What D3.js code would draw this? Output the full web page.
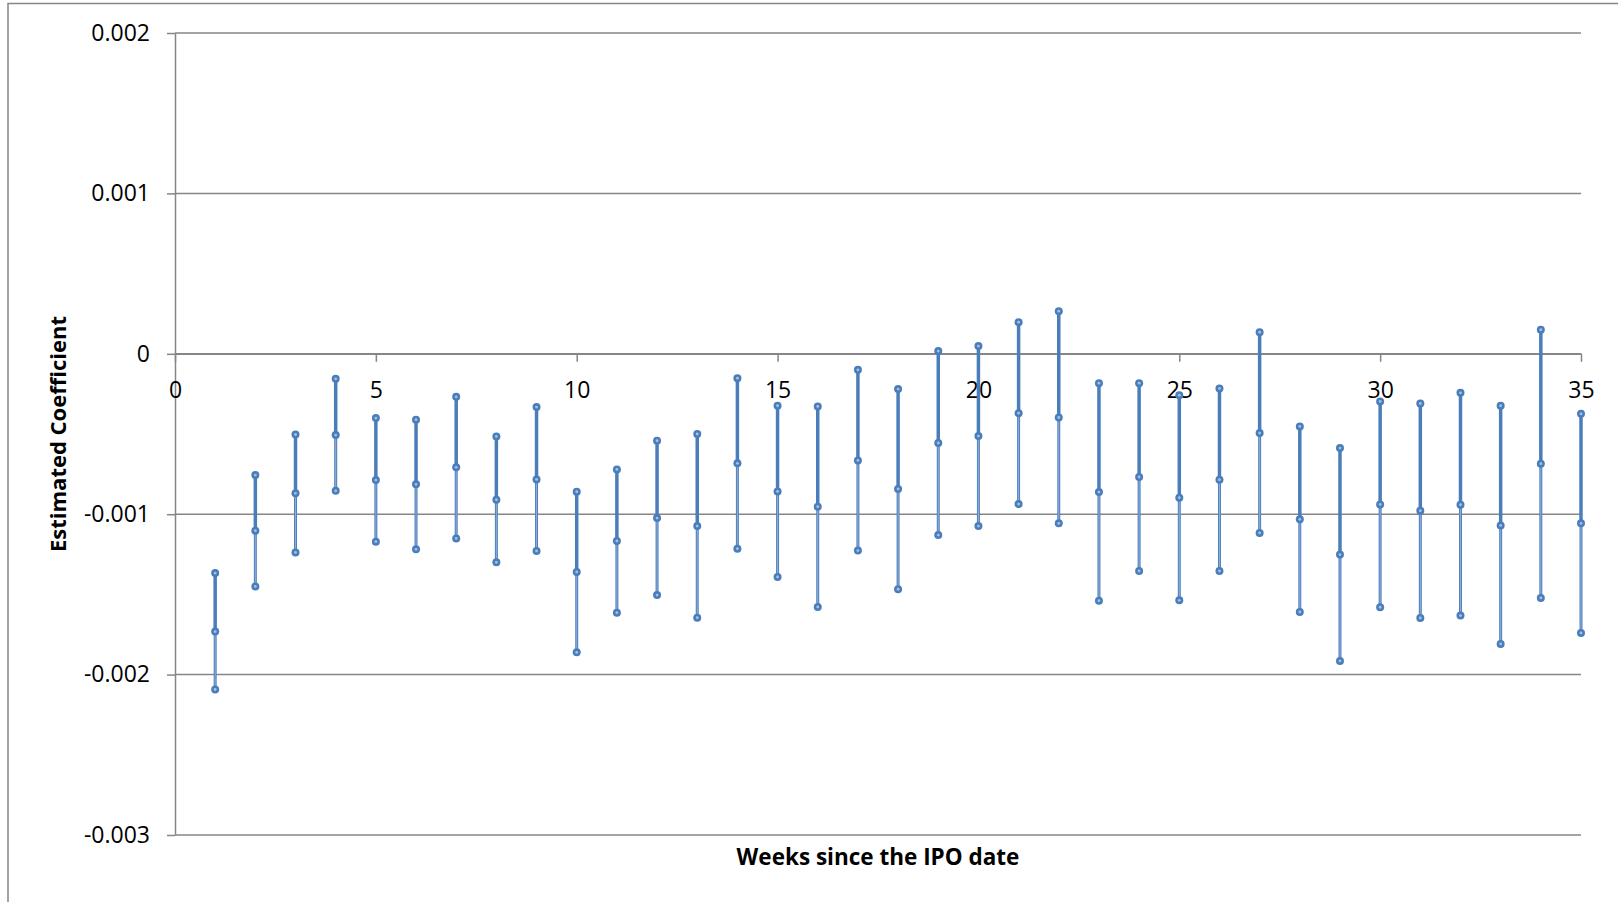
<!DOCTYPE html>
<html>
<head>
<meta charset="utf-8">
<script src="https://cdnjs.cloudflare.com/ajax/libs/d3/7.8.5/d3.min.js"></script>
<style>
    body { margin: 0; background: #fff; }
    svg { display: block; font-family: "Open Sans", sans-serif; }
</style>
</head>
<body>
<div id="chart"></div>
<script>

// weeks since the IPO date, and the estimated coefficient with its bounds
var weeks = [ 1, 2, 3, 4, 5, 6, 7, 8, 9, 10, 11, 12, 13, 14, 15, 16, 17, 18,
              19, 20, 21, 22, 23, 24, 25, 26, 27, 28, 29, 30, 31, 32, 33, 34, 35 ];

var upper = [ -0.001367, -0.000756, -0.000503, -0.000156, -0.000401, -0.000411, -0.000268,
              -0.000515, -0.000332, -0.000860, -0.000721, -0.000542, -0.000500, -0.000152,
              -0.000324, -0.000328, -0.000100, -0.000220, 0.000017, 0.000048, 0.000197,
              0.000266, -0.000183, -0.000183, -0.000258, -0.000216, 0.000135, -0.000453,
              -0.000588, -0.000297, -0.000310, -0.000243, -0.000324, 0.000150, -0.000374 ];

var estimate = [ -0.001732, -0.001103, -0.000870, -0.000507, -0.000787, -0.000814, -0.000708,
                 -0.000910, -0.000783, -0.001360, -0.001167, -0.001024, -0.001074, -0.000683,
                 -0.000858, -0.000953, -0.000665, -0.000843, -0.000556, -0.000513, -0.000370,
                 -0.000397, -0.000862, -0.000768, -0.000897, -0.000785, -0.000494, -0.001032,
                 -0.001252, -0.000939, -0.000978, -0.000941, -0.001070, -0.000685, -0.001057 ];

var lower = [ -0.002093, -0.001450, -0.001238, -0.000854, -0.001171, -0.001219, -0.001151,
              -0.001300, -0.001229, -0.001861, -0.001614, -0.001504, -0.001645, -0.001215,
              -0.001391, -0.001578, -0.001227, -0.001468, -0.001130, -0.001074, -0.000937,
              -0.001057, -0.001539, -0.001354, -0.001537, -0.001354, -0.001117, -0.001609,
              -0.001915, -0.001580, -0.001647, -0.001632, -0.001809, -0.001522, -0.001740 ];

var xTicks = [ 0, 5, 10, 15, 20, 25, 30, 35 ];
var yTicks = [ 0.002, 0.001, 0, -0.001, -0.002, -0.003 ];

var width = 1618,
    height = 902;

var gridColor = '#868686';
var lineColor = '#4a7ebb';

var x = d3.scaleLinear()
    .domain([ 0, 35 ])
    .range([ 175, 1581 ]);

var y = d3.scaleLinear()
    .domain([ -0.003, 0.002 ])
    .range([ 835, 33 ]);

var svg = d3.select('#chart').append('svg')
    .attr('width', width)
    .attr('height', height);

// chart frame, cut off on the right and at the bottom
svg.append('rect')
    .attr('x', 8)
    .attr('y', 3.5)
    .attr('width', width + 20)
    .attr('height', height + 20)
    .style('fill', 'none')
    .style('stroke', gridColor)
    .style('stroke-width', 1.5);

// gridlines
svg.append('g')
    .selectAll('line')
    .data( yTicks )
    .enter().append('line')
    .attr('x1', x( 0 ))
    .attr('x2', x( 35 ))
    .attr('y1', function ( d ) { return y( d ) })
    .attr('y2', function ( d ) { return y( d ) })
    .style('stroke', gridColor)
    .style('stroke-width', 1.5);

var yAxis = d3.axisLeft( y )
    .tickValues( yTicks )
    .tickSize( 8 )
    .tickSizeOuter( 0 )
    .tickPadding( 17 )
    .tickFormat( function ( d ) { return d === 0 ? '0' : d.toFixed( 3 ) });

var xAxis = d3.axisBottom( x )
    .tickValues( xTicks )
    .tickSize( 8 )
    .tickSizeOuter( 0 )
    .tickPadding( 20 )
    .tickFormat( d3.format('d') );

var gy = svg.append('g')
    .attr('transform', 'translate(' + x( 0 ) + ',0)')
    .call( yAxis );

var gx = svg.append('g')
    .attr('transform', 'translate(0,' + y( 0 ) + ')')
    .call( xAxis );

[ gx, gy ].forEach( function ( g ) {
    g.select('.domain')
        .style('stroke', gridColor)
        .style('stroke-width', 1.5);
    g.selectAll('.tick line')
        .style('stroke', gridColor)
        .style('stroke-width', 1.5);
    g.selectAll('.tick text')
        .style('font-size', '23px')
        .style('font-family', '"Open Sans", sans-serif')
        .style('fill', '#000');
});

// axis titles
svg.append('text')
    .attr('transform', 'translate(58,434) rotate(-90)')
    .attr('text-anchor', 'middle')
    .attr('dy', '0.35em')
    .style('font-size', '22px')
    .style('font-weight', 'bold')
    .text('Estimated Coefficient');

svg.append('text')
    .attr('x', 878)
    .attr('y', 857)
    .attr('text-anchor', 'middle')
    .attr('dy', '0.35em')
    .style('font-size', '22.5px')
    .style('font-weight', 'bold')
    .text('Weeks since the IPO date');

// ranges
var rows = weeks.map( function ( w, i ) {
    return { week: w, upper: upper[ i ], estimate: estimate[ i ], lower: lower[ i ] };
});

var bars = svg.append('g')
    .selectAll('g')
    .data( rows )
    .enter().append('g');

bars.append('line')
    .attr('x1', function ( d ) { return x( d.week ) })
    .attr('x2', function ( d ) { return x( d.week ) })
    .attr('y1', function ( d ) { return y( d.upper ) })
    .attr('y2', function ( d ) { return y( d.estimate ) })
    .style('stroke', lineColor)
    .style('stroke-width', 3.5);

bars.append('line')
    .attr('x1', function ( d ) { return x( d.week ) })
    .attr('x2', function ( d ) { return x( d.week ) })
    .attr('y1', function ( d ) { return y( d.estimate ) })
    .attr('y2', function ( d ) { return y( d.lower ) })
    .style('stroke', '#4f81bd')
    .style('stroke-width', 3);

bars.append('line')
    .attr('x1', function ( d ) { return x( d.week ) })
    .attr('x2', function ( d ) { return x( d.week ) })
    .attr('y1', function ( d ) { return y( d.estimate ) })
    .attr('y2', function ( d ) { return y( d.lower ) })
    .style('stroke', '#8eaedb')
    .style('stroke-width', 1);

// markers
[ 'upper', 'estimate', 'lower' ].forEach( function ( key ) {

    bars.append('circle')
        .attr('cx', function ( d ) { return x( d.week ) })
        .attr('cy', function ( d ) { return y( d[ key ] ) })
        .attr('r', 4)
        .style('fill', lineColor);

    bars.append('circle')
        .attr('cx', function ( d ) { return x( d.week ) })
        .attr('cy', function ( d ) { return y( d[ key ] ) })
        .attr('r', 1.4)
        .style('fill', '#a8c1de');

});

</script>
</body>
</html>
